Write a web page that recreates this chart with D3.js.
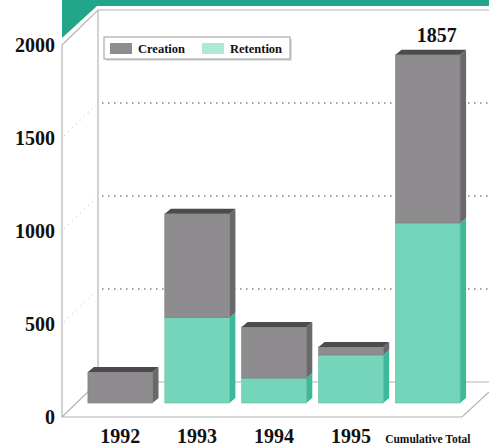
<!DOCTYPE html>
<html>
<head>
<meta charset="utf-8">
<script src="https://cdn.jsdelivr.net/npm/d3@7"></script>
<style>
  body { margin: 0; background: #fff; }
  svg text { font-family: "Liberation Serif", "Times New Roman", serif; font-weight: bold; fill: #111; }
</style>
</head>
<body>
<svg id="chart" width="489" height="447"></svg>
<script>
// data
var categories = ["1992", "1993", "1994", "1995", "Cumulative Total"];
var retention = [0, 455, 133, 256, 960];
var creation = [165, 554, 273, 43, 897];
var yTicks = [0, 500, 1000, 1500, 2000];
var totalLabel = "1857";

var W = 489, H = 447;
var svg = d3.select("#chart");

// front plane, back wall and bar scales
var yFront = d3.scaleLinear().domain([0, 2000]).range([417, 45]);
var depth = { x: 36, y: -35 };   // wall / floor depth
var yBar = d3.scaleLinear().domain([0, 2000]).range([403, 28]);
var bd = { x: 6, y: -5 };        // bar depth
var x = d3.scaleBand().domain(categories).range([81, 467]).paddingInner(0.16).paddingOuter(0.09);

var line = function (pts) { return "M" + pts.map(function (p) { return p.join(","); }).join("L"); };

// teal header strip
svg.append("path")
    .attr("d", line([[62, 0], [W, 0], [W, 6], [97, 6], [62, 38]]) + "Z")
    .attr("fill", "#22a588");

// walls and floor
var frameColor = "#b4b4b4";
var walls = svg.append("g").attr("fill", "none").attr("stroke", frameColor).attr("stroke-width", 1.2);
walls.append("path").attr("d", line([[62, yFront(2000)], [62, yFront(0)], [462, yFront(0)], [W, yFront(0) - 25]]));
walls.append("path").attr("d", line([[62, yFront(2000)], [62 + depth.x, yFront(2000) + depth.y], [W, yFront(2000) + depth.y]]));
walls.append("path").attr("d", line([[62, yFront(0)], [62 + depth.x, yFront(0) + depth.y], [W, yFront(0) + depth.y]]));
walls.append("path").attr("d", line([[62 + depth.x, yFront(2000) + depth.y], [62 + depth.x, yFront(0) + depth.y]]));

// dotted gridlines on the back wall, faint ones on the side wall
var grid = svg.append("g");
yTicks.filter(function (t) { return t > 0 && t < 2000; }).forEach(function (t) {
    var yb = yFront(t) + depth.y;
    grid.append("line")
        .attr("x1", 62 + depth.x + 4).attr("x2", W)
        .attr("y1", yb).attr("y2", yb)
        .attr("stroke", "#444").attr("stroke-width", 1.2)
        .attr("stroke-dasharray", "1.5,4.5");
    grid.append("line")
        .attr("x1", 64).attr("x2", 62 + depth.x - 2)
        .attr("y1", yFront(t) - 2).attr("y2", yb + 2)
        .attr("stroke", "#ccc").attr("stroke-width", 1)
        .attr("stroke-dasharray", "1.5,4");
});

// y tick labels
svg.append("g").selectAll("text").data(yTicks).join("text")
    .attr("x", 55).attr("y", function (d) { return yFront(d) + 7; })
    .attr("text-anchor", "end").attr("font-size", 20)
    .text(function (d) { return d; });

// 3D bars
var colors = {
    creation: { front: "#8e8c8e", side: "#6a686a", top: "#4c4a4c" },
    retention: { front: "#74d5bb", side: "#3db898", top: "#5cc8ab" }
};
var bars = svg.append("g");
categories.forEach(function (c, i) {
    var segs = [
        { key: "retention", y0: 0, y1: retention[i] },
        { key: "creation", y0: retention[i], y1: retention[i] + creation[i] }
    ].filter(function (s) { return s.y1 > s.y0; });
    var xl = x(c), xr = x(c) + x.bandwidth();
    segs.forEach(function (s, j) {
        var col = colors[s.key];
        var yt = yBar(s.y1), yb = yBar(s.y0);
        bars.append("path")
            .attr("d", line([[xr, yb], [xr + bd.x, yb + bd.y], [xr + bd.x, yt + bd.y], [xr, yt]]) + "Z")
            .attr("fill", col.side);
        bars.append("rect")
            .attr("x", xl).attr("y", yt)
            .attr("width", xr - xl).attr("height", yb - yt)
            .attr("fill", col.front)
            .attr("stroke", d3.color(col.front).darker(0.4)).attr("stroke-width", 0.6);
        if (j === segs.length - 1) {
            bars.append("path")
                .attr("d", line([[xl, yt], [xl + bd.x, yt + bd.y], [xr + bd.x, yt + bd.y], [xr, yt]]) + "Z")
                .attr("fill", col.top);
        }
    });
});

// total label on the cumulative bar
var lastCat = categories[categories.length - 1];
var lastTotal = retention[retention.length - 1] + creation[creation.length - 1];
svg.append("text")
    .attr("x", x(lastCat) + x.bandwidth() / 2 + 9)
    .attr("y", yBar(lastTotal) - 13)
    .attr("text-anchor", "middle").attr("font-size", 20)
    .text(totalLabel);

// x labels
svg.append("g").selectAll("text").data(categories).join("text")
    .attr("x", function (d) { return x(d) + x.bandwidth() / 2; })
    .attr("y", 443)
    .attr("text-anchor", "middle")
    .attr("font-size", function (d) { return d.length > 4 ? 11.5 : 20; })
    .text(function (d) { return d; });

// legend
var lg = svg.append("g").attr("transform", "translate(104,37)");
lg.append("rect").attr("x", 2).attr("y", 2).attr("width", 186).attr("height", 22).attr("fill", "#ddd");
lg.append("rect").attr("width", 186).attr("height", 22).attr("fill", "#fff").attr("stroke", "#999");
var legendItems = [
    { label: "Creation", color: "#8e8c8e", x: 6 },
    { label: "Retention", color: "#aee8d6", x: 98 }
];
legendItems.forEach(function (it) {
    lg.append("rect").attr("x", it.x).attr("y", 6).attr("width", 22).attr("height", 11).attr("fill", it.color);
    lg.append("text").attr("x", it.x + 28).attr("y", 16).attr("font-size", 12.5).text(it.label);
});
</script>
</body>
</html>
